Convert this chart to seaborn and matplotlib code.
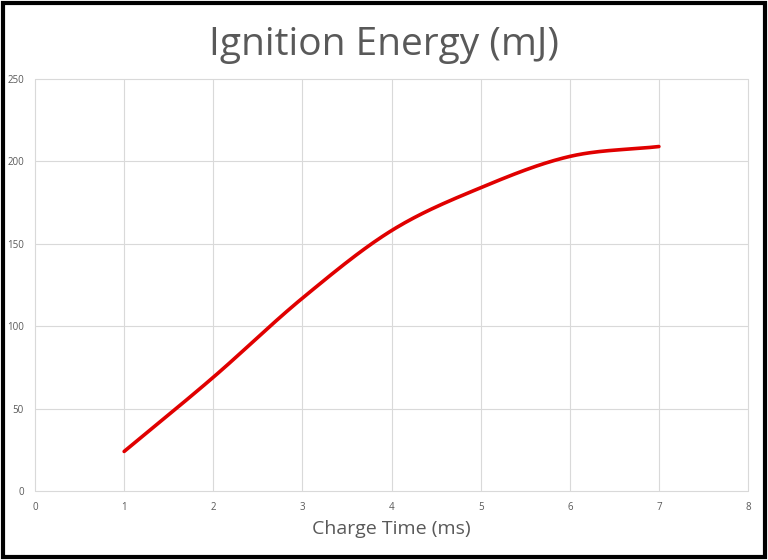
import numpy as np
import pandas as pd
import seaborn as sns
import matplotlib.pyplot as plt
from matplotlib.patches import Rectangle

# data
charge_time = [1, 2, 3, 4, 5, 6, 7]
ignition_energy = [24, 69, 117, 158, 184, 203, 209]

x_ticks = [0, 1, 2, 3, 4, 5, 6, 7, 8]
y_ticks = [0, 50, 100, 150, 200, 250]


def smooth_curve(xs, ys, steps=40):
    # catmull-rom path, like Excel's "smoothed line" option
    xs = np.asarray(xs, float)
    ys = np.asarray(ys, float)
    px = np.concatenate([[2 * xs[0] - xs[1]], xs, [2 * xs[-1] - xs[-2]]])
    py = np.concatenate([[2 * ys[0] - ys[1]], ys, [2 * ys[-1] - ys[-2]]])
    out_x, out_y = [], []
    for i in range(1, len(px) - 2):
        t = np.linspace(0, 1, steps, endpoint=(i == len(px) - 3))
        for arr, out in ((px, out_x), (py, out_y)):
            p0, p1, p2, p3 = arr[i - 1], arr[i], arr[i + 1], arr[i + 2]
            out.extend(0.5 * ((2 * p1) + (-p0 + p2) * t
                              + (2 * p0 - 5 * p1 + 4 * p2 - p3) * t ** 2
                              + (-p0 + 3 * p1 - 3 * p2 + p3) * t ** 3))
    return pd.DataFrame({"x": out_x, "y": out_y})


sns.set_theme(style="white")
plt.rcParams['font.family'] = ['Open Sans', 'DejaVu Sans']

fig = plt.figure(figsize=(7.68, 5.6), dpi=100)
ax = fig.add_axes([0.0456, 0.1232, 0.9284, 0.7358])

curve = smooth_curve(charge_time, ignition_energy)
sns.lineplot(data=curve, x="x", y="y", ax=ax, color="#E00000",
             linewidth=2.6, sort=False, estimator=None, zorder=3)

ax.set_xlim(0, 8)
ax.set_ylim(0, 250)
ax.set_xticks(x_ticks)
ax.set_yticks(y_ticks)
ax.grid(True, color="#D9D9D9", linewidth=0.8)
for s in ax.spines.values():
    s.set_visible(False)
for gl in ax.get_xgridlines() + ax.get_ygridlines():
    gl.set_clip_on(False)
ax.tick_params(axis="both", length=0, labelsize=7, labelcolor="#595959")
ax.tick_params(axis="x", pad=8)
ax.tick_params(axis="y", pad=8)

ax.set_xlabel("Charge Time (ms)", fontsize=14, color="#595959", labelpad=5)
ax.set_ylabel("")
fig.text(0.5, 0.92, "Ignition Energy (mJ)", ha="center", va="center",
         fontsize=28, color="#595959")

fig.patches.append(Rectangle((0.004, 0.006), 0.992, 0.988, transform=fig.transFigure,
                             fill=False, edgecolor="black", linewidth=3))

fig.savefig("out.png", dpi=100)
